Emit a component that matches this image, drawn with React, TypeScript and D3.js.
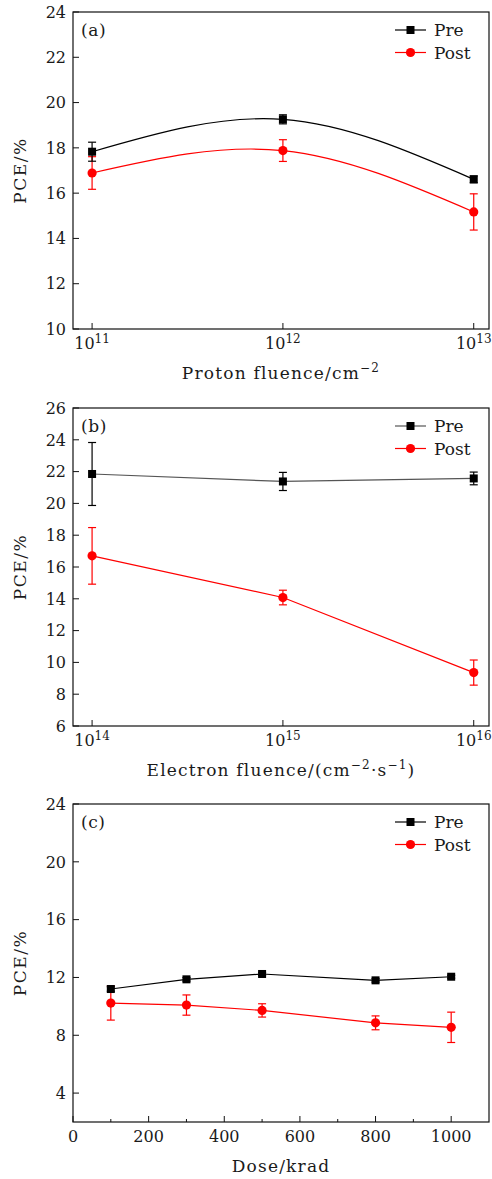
import * as d3 from "d3";

// panel (a) proton irradiation
const protonFluence = [1e11, 1e12, 1e13];
const protonPre = [17.83, 19.26, 16.61];
const protonPreErr = [0.42, 0.2, 0.15];
const protonPost = [16.89, 17.88, 15.17];
const protonPostErr = [0.72, 0.48, 0.8];

// panel (b) electron irradiation
const electronFluence = [1e14, 1e15, 1e16];
const electronPre = [21.85, 21.38, 21.57];
const electronPreErr = [1.98, 0.57, 0.4];
const electronPost = [16.7, 14.08, 9.36];
const electronPostErr = [1.78, 0.46, 0.79];

// panel (c) gamma dose
const dose = [100, 300, 500, 800, 1000];
const dosePre = [11.2, 11.87, 12.24, 11.8, 12.05];
const dosePreErr = [0.15, 0.12, 0.1, 0.12, 0.1];
const dosePost = [10.23, 10.09, 9.72, 8.86, 8.55];
const dosePostErr = [1.18, 0.7, 0.46, 0.48, 1.05];

const yTicksA = [10, 12, 14, 16, 18, 20, 22, 24];
const yTicksB = [6, 8, 10, 12, 14, 16, 18, 20, 22, 24, 26];
const yTicksC = [4, 8, 12, 16, 20, 24];
const xTicksC = [0, 200, 400, 600, 800, 1000];
const xMinorC = [100, 300, 500, 700, 900];

const FONT = "'DejaVu Serif', serif";
const RED = "#ff0000";
const BLACK = "#000000";
const TXT = "#1a1a1a";

type Series = {
  name: string;
  y: number[];
  err: number[];
  color: string;
  lineColor: string;
  marker: "square" | "circle";
};

type PanelProps = {
  top: number;
  bottom: number;
  left: number;
  right: number;
  label: string;
  xs: number[];
  logX: boolean;
  xDomain: [number, number];
  xTicks: number[];
  xMinor?: number[];
  yDomain: [number, number];
  yTicks: number[];
  series: Series[];
  smooth: boolean;
  xTitle: React.ReactNode;
};

function Marker({ x, y, s }: { x: number; y: number; s: Series }) {
  if (s.marker === "square") {
    return <rect x={x - 4} y={y - 4} width={8} height={8} fill={s.color} />;
  }
  return <circle cx={x} cy={y} r={4.6} fill={s.color} />;
}

function Panel(p: PanelProps) {
  const x = p.logX
    ? d3.scaleLog().domain(p.xDomain).range([p.left, p.right])
    : d3.scaleLinear().domain(p.xDomain).range([p.left, p.right]);
  const y = d3.scaleLinear().domain(p.yDomain).range([p.bottom, p.top]);

  const line = d3
    .line<number>()
    .x((_d, i) => x(p.xs[i]))
    .y((d) => y(d))
    .curve(p.smooth ? d3.curveNatural : d3.curveLinear);

  const midY = (p.top + p.bottom) / 2;
  const legX = p.right - 94;

  return (
    <g>
      {/* frame */}
      <rect
        x={p.left}
        y={p.top}
        width={p.right - p.left}
        height={p.bottom - p.top}
        fill="none"
        stroke="#111"
        strokeWidth={1.2}
      />
      {/* y ticks */}
      {p.yTicks.map((t) => (
        <g key={"y" + t}>
          <line x1={p.left} x2={p.left + 6} y1={y(t)} y2={y(t)} stroke="#111" strokeWidth={1} />
          <text
            x={p.left - 7}
            y={y(t)}
            dy="0.36em"
            textAnchor="end"
            fontSize={16}
            fontFamily={FONT}
            fill={TXT}
          >
            {t}
          </text>
        </g>
      ))}
      {/* x ticks */}
      {p.xTicks.map((t) => (
        <g key={"x" + t}>
          <line x1={x(t)} x2={x(t)} y1={p.bottom} y2={p.bottom - 6} stroke="#111" strokeWidth={1} />
          {p.logX ? (
            <text
              x={x(t)}
              y={p.bottom + 20}
              textAnchor="middle"
              fontSize={16}
              fontFamily={FONT}
              fill={TXT}
            >
              10
              <tspan dy={-6} fontSize={12}>
                {Math.round(Math.log10(t))}
              </tspan>
            </text>
          ) : (
            <text
              x={x(t)}
              y={p.bottom + 20}
              textAnchor="middle"
              fontSize={16}
              fontFamily={FONT}
              fill={TXT}
            >
              {t}
            </text>
          )}
        </g>
      ))}
      {(p.xMinor || []).map((t) => (
        <line key={"m" + t} x1={x(t)} x2={x(t)} y1={p.bottom} y2={p.bottom - 3} stroke="#111" strokeWidth={1} />
      ))}
      {/* axis titles */}
      <text
        transform={`translate(26,${midY}) rotate(-90)`}
        textAnchor="middle"
        fontSize={17}
        letterSpacing={1.5}
        fontFamily={FONT}
        fill={TXT}
      >
        PCE/%
      </text>
      <text
        x={(p.left + p.right) / 2}
        y={p.bottom + 50}
        textAnchor="middle"
        fontSize={17}
        letterSpacing={1.2}
        fontFamily={FONT}
        fill={TXT}
      >
        {p.xTitle}
      </text>
      {/* panel label */}
      <text x={p.left + 8} y={p.top + 24} fontSize={17} letterSpacing={0.6} fontFamily={FONT} fill={TXT}>
        {p.label}
      </text>
      {/* series */}
      {p.series.map((s) => (
        <g key={s.name}>
          <path d={line(s.y) || ""} fill="none" stroke={s.lineColor} strokeWidth={1.2} />
          {s.y.map((v, i) => {
            const cx = x(p.xs[i]);
            const y0 = y(v - s.err[i]);
            const y1 = y(v + s.err[i]);
            return (
              <g key={i}>
                <line x1={cx} x2={cx} y1={y0} y2={y1} stroke={s.color} strokeWidth={1.2} />
                <line x1={cx - 4} x2={cx + 4} y1={y0} y2={y0} stroke={s.color} strokeWidth={1.2} />
                <line x1={cx - 4} x2={cx + 4} y1={y1} y2={y1} stroke={s.color} strokeWidth={1.2} />
                <Marker x={cx} y={y(v)} s={s} />
              </g>
            );
          })}
        </g>
      ))}
      {/* legend */}
      {p.series
        .slice()
        .reverse()
        .map((s, i) => {
          const ly = p.top + 18 + i * 22.5;
          return (
            <g key={"leg" + s.name}>
              <line x1={legX} x2={legX + 31} y1={ly} y2={ly} stroke={s.lineColor} strokeWidth={1.2} />
              <Marker x={legX + 15.5} y={ly} s={s} />
              <text x={legX + 39} y={ly} dy="0.36em" fontSize={17} fontFamily={FONT} fill={TXT}>
                {s.name}
              </text>
            </g>
          );
        })}
    </g>
  );
}

function mkSeries(pre: number[], preErr: number[], post: number[], postErr: number[], preLine: string): Series[] {
  // post drawn first so pre sits on top
  return [
    { name: "Post", y: post, err: postErr, color: RED, lineColor: RED, marker: "circle" },
    { name: "Pre", y: pre, err: preErr, color: BLACK, lineColor: preLine, marker: "square" },
  ];
}

export default function App() {
  const sup = (t: string) => (
    <tspan dy={-7} fontSize={12}>
      {t}
    </tspan>
  );
  return (
    <svg
      width={492}
      height={1179}
      style={{ position: "absolute", left: 0, top: 0, background: "#fff" }}
    >
      <Panel
        top={12}
        bottom={329}
        left={73}
        right={489}
        label="(a)"
        xs={protonFluence}
        logX
        xDomain={[Math.pow(10, 10.9), Math.pow(10, 13.08)]}
        xTicks={protonFluence}
        yDomain={[10, 24]}
        yTicks={yTicksA}
        series={mkSeries(protonPre, protonPreErr, protonPost, protonPostErr, "#000")}
        smooth
        xTitle={
          <>
            Proton fluence/cm{sup("−2")}
          </>
        }
      />
      <Panel
        top={408}
        bottom={726}
        left={73}
        right={489}
        label="(b)"
        xs={electronFluence}
        logX
        xDomain={[Math.pow(10, 13.9), Math.pow(10, 16.08)]}
        xTicks={electronFluence}
        yDomain={[6, 26]}
        yTicks={yTicksB}
        series={mkSeries(electronPre, electronPreErr, electronPost, electronPostErr, "#555")}
        smooth={false}
        xTitle={
          <>
            Electron fluence/(cm{sup("−2")}
            <tspan dy={7}>·s</tspan>
            {sup("−1")}
            <tspan dy={7}>)</tspan>
          </>
        }
      />
      <Panel
        top={804}
        bottom={1122}
        left={73}
        right={489}
        label="(c)"
        xs={dose}
        logX={false}
        xDomain={[0, 1100]}
        xTicks={xTicksC}
        xMinor={xMinorC}
        yDomain={[2, 24]}
        yTicks={yTicksC}
        series={mkSeries(dosePre, dosePreErr, dosePost, dosePostErr, "#000")}
        smooth={false}
        xTitle={<>Dose/krad</>}
      />
    </svg>
  );
}
